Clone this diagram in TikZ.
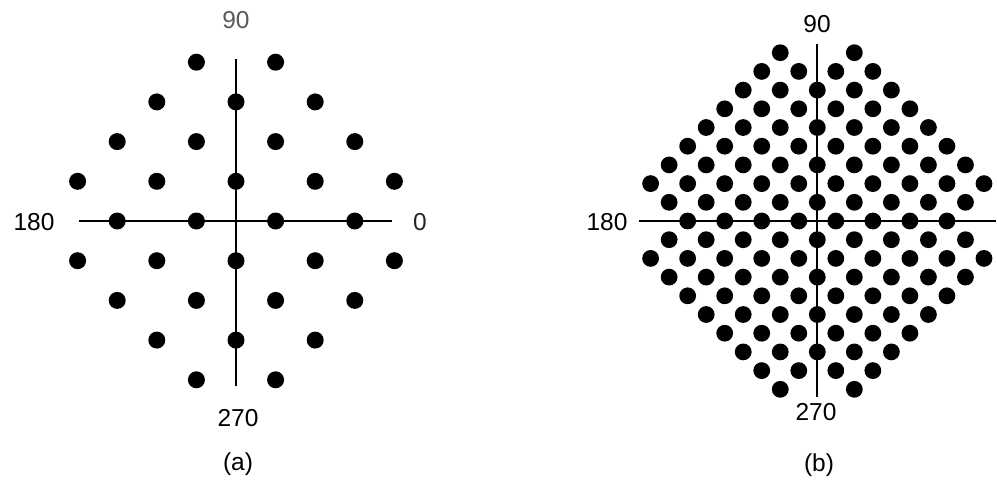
\documentclass[tikz,border=0pt]{standalone}
\usepackage{fontspec}
\setmainfont{Liberation Sans}
\begin{document}
\begin{tikzpicture}[x=1pt,y=-1pt,
  dota/.style={circle,fill=black,inner sep=0pt,minimum size=17pt},
  dotb/.style={circle,fill=black,inner sep=0pt,minimum size=16.8pt},
  axisa/.style={line width=1.5pt,black},
  axisb/.style={line width=2pt,black},
  lbl/.style={inner sep=0pt,font=\fontsize{24.5}{28}\selectfont},
  grylbl/.style={lbl,text=black!65}]
\useasboundingbox (0,0) rectangle (997,483);
% ---------- panel (a) ----------
\coordinate (aN) at (236,59);
\coordinate (aS) at (236,386);
\coordinate (aW) at (79,221);
\coordinate (aE) at (392,221);
\draw[axisa] (aN) -- (aS);
\draw[axisa] (aW) -- (aE);
\foreach \v/\us in {4/{-1,1},3/{-2,0,2},2/{-3,-1,1,3},1/{-4,-2,0,2,4},0/{-3,-1,1,3},-1/{-4,-2,0,2,4},-2/{-3,-1,1,3},-3/{-2,0,2},-4/{-1,1}}{
  \foreach \u in \us {
    \node[dota] (a\u_\v) at ({236+39.6*\u},{221-39.7*\v}) {};
  }
}
\node[grylbl] (a90) at (236,20) {90};
\node[lbl,text=black!85] (a0) at (420,222) {0};
\node[lbl] (a180) at (34,222) {180};
\node[lbl] (a270) at (238,418) {270};
\node[lbl] (acap) at (238,464) {(a)};
% ---------- panel (b) ----------
\coordinate (bN) at (817,44);
\coordinate (bS) at (817,397);
\coordinate (bW) at (639,221);
\coordinate (bE) at (996,221);
\draw[axisb] (bN) -- (bS);
\draw[axisb] (bW) -- (bE);
\foreach \v/\us in {
  9/{-2,2},
  8/{-3,-1,1,3},
  7/{-4,-2,0,2,4},
  6/{-5,-3,-1,1,3,5},
  5/{-6,-4,-2,0,2,4,6},
  4/{-7,-5,-3,-1,1,3,5,7},
  3/{-8,-6,-4,-2,0,2,4,6,8},
  2/{-9,-7,-5,-3,-1,1,3,5,7,9},
  1/{-8,-6,-4,-2,0,2,4,6,8},
  0/{-7,-5,-3,-1,1,3,5,7},
  -1/{-8,-6,-4,-2,0,2,4,6,8},
  -2/{-9,-7,-5,-3,-1,1,3,5,7,9},
  -3/{-8,-6,-4,-2,0,2,4,6,8},
  -4/{-7,-5,-3,-1,1,3,5,7},
  -5/{-6,-4,-2,0,2,4,6},
  -6/{-5,-3,-1,1,3,5},
  -7/{-4,-2,0,2,4},
  -8/{-3,-1,1,3},
  -9/{-2,2}}{
  \foreach \u in \us {
    \node[dotb] (b\u_\v) at ({817.3+18.52*\u},{221-18.7*\v}) {};
  }
}
\node[lbl] (b90) at (817,24) {90};
\node[lbl] (b180) at (607,222) {180};
\node[lbl] (b270) at (816,412) {270};
\node[lbl] (bcap) at (819,465) {(b)};
\end{tikzpicture}
\end{document}
